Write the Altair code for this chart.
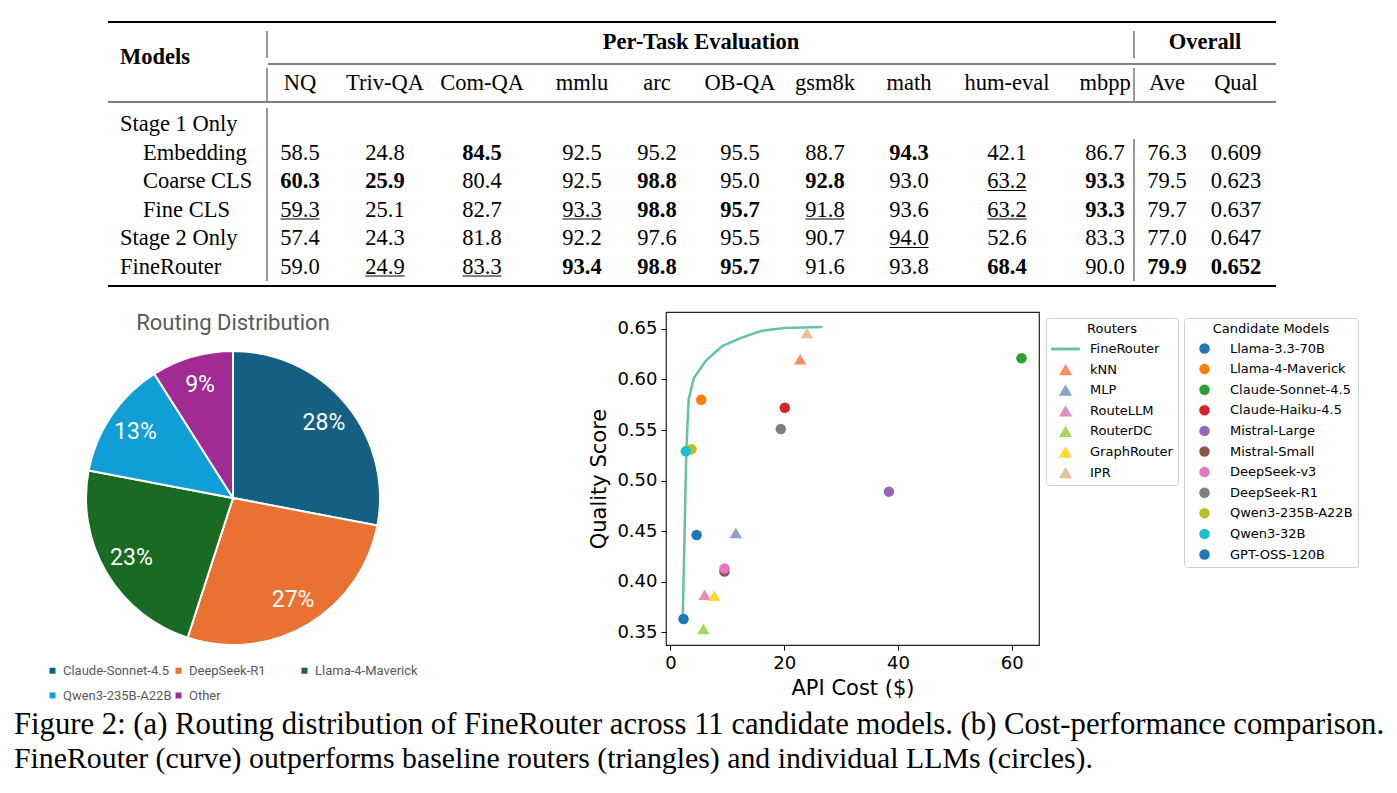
import altair as alt
import pandas as pd

# ------------------------------------------------------------------ data
TASKS = ["NQ", "Triv-QA", "Com-QA", "mmlu", "arc", "OB-QA", "gsm8k", "math",
         "hum-eval", "mbpp", "Ave", "Qual"]
ROW_LABELS = ["Stage 1 Only", "Embedding", "Coarse CLS", "Fine CLS", "Stage 2 Only", "FineRouter"]
ROW_INDENT = [False, True, True, True, False, False]
VALUE_ROWS = ["Embedding", "Coarse CLS", "Fine CLS", "Stage 2 Only", "FineRouter"]
EMBEDDING = [58.5, 24.8, 84.5, 92.5, 95.2, 95.5, 88.7, 94.3, 42.1, 86.7, 76.3, 0.609]
COARSE = [60.3, 25.9, 80.4, 92.5, 98.8, 95.0, 92.8, 93.0, 63.2, 93.3, 79.5, 0.623]
FINE = [59.3, 25.1, 82.7, 93.3, 98.8, 95.7, 91.8, 93.6, 63.2, 93.3, 79.7, 0.637]
STAGE2 = [57.4, 24.3, 81.8, 92.2, 97.6, 95.5, 90.7, 94.0, 52.6, 83.3, 77.0, 0.647]
FINEROUTER = [59.0, 24.9, 83.3, 93.4, 98.8, 95.7, 91.6, 93.8, 68.4, 90.0, 79.9, 0.652]
BOLD = {"Embedding": ["Com-QA", "math"],
        "Coarse CLS": ["NQ", "Triv-QA", "arc", "gsm8k", "mbpp"],
        "Fine CLS": ["arc", "OB-QA", "mbpp"],
        "Stage 2 Only": [],
        "FineRouter": ["mmlu", "arc", "OB-QA", "hum-eval", "Ave", "Qual"]}
UNDER = {"Embedding": [],
         "Coarse CLS": ["hum-eval"],
         "Fine CLS": ["NQ", "mmlu", "gsm8k", "hum-eval"],
         "Stage 2 Only": ["math"],
         "FineRouter": ["Triv-QA", "Com-QA"]}

PIE_MODELS = ["Claude-Sonnet-4.5", "DeepSeek-R1", "Llama-4-Maverick", "Qwen3-235B-A22B", "Other"]
PIE_SHARE = [28, 27, 23, 13, 9]

ROUTERS = ["FineRouter", "kNN", "MLP", "RouteLLM", "RouterDC", "GraphRouter", "IPR"]
BASE_ROUTERS = ["kNN", "MLP", "RouteLLM", "RouterDC", "GraphRouter", "IPR"]
ROUTER_COST = [22.8, 11.5, 6.0, 5.8, 7.7, 24.0]
ROUTER_QUAL = [0.620, 0.448, 0.387, 0.353, 0.386, 0.646]

MODELS = ["Llama-3.3-70B", "Llama-4-Maverick", "Claude-Sonnet-4.5", "Claude-Haiku-4.5",
          "Mistral-Large", "Mistral-Small", "DeepSeek-v3", "DeepSeek-R1",
          "Qwen3-235B-A22B", "Qwen3-32B", "GPT-OSS-120B"]
MODEL_COST = [2.3, 5.4, 61.7, 20.1, 38.4, 9.5, 9.5, 19.4, 3.7, 2.7, 4.6]
MODEL_QUAL = [0.363, 0.580, 0.621, 0.572, 0.489, 0.410, 0.413, 0.551, 0.531, 0.529, 0.446]

FR_COST = [2.16, 2.45, 2.8, 3.2, 4.1, 6.3, 9.1, 12.3, 15.9, 19.9, 26.7]
FR_QUAL = [0.362, 0.439, 0.531, 0.580, 0.6015, 0.619, 0.633, 0.641, 0.648, 0.651, 0.652]

CAPTION_1 = "Figure 2: (a) Routing distribution of FineRouter across 11 candidate models. (b) Cost-performance comparison."
CAPTION_2 = "FineRouter (curve) outperforms baseline routers (triangles) and individual LLMs (circles)."

# ------------------------------------------------------------------ styles / layout
PIE_COLORS = ["#156082", "#E97132", "#196B24", "#0F9ED5", "#A02B93"]
ROUTER_COLORS = ["#66c2a5", "#fc8d62", "#8da0cb", "#e78ac3", "#a6d854", "#ffd92f", "#e5c494"]
LINE_PATH = "M-2.2,-0.22H2.2V0.22H-2.2Z"
ROUTER_SHAPES = [LINE_PATH] + ["triangle-up"] * 6
MODEL_COLORS = ["#1f77b4", "#ff7f0e", "#2ca02c", "#d62728", "#9467bd", "#8c564b",
                "#e377c2", "#7f7f7f", "#bcbd22", "#17becf", "#1f77b4"]

FX, FY, FW, FH = 666, 312, 373, 333     # scatter plot frame on the page
PAGE_W, PAGE_H = 1397, 793


def px(x):
    return x - FX


def py(y):
    return y - FY


SERIF = "Liberation Serif"
SANS = "DejaVu Sans"
PIEF = "Roboto"
TFS = 22.5
COL_CENTERS = [300, 385, 482, 582, 657, 740, 825, 909, 1007, 1105, 1167, 1236]
ROW_CENTERS = [124, 152.5, 181, 209.5, 238, 266.5]
H_RULES = [(108, 1276, 22, 1.8), (268, 1276, 64, 1.0), (108, 1276, 102, 1.1), (108, 1276, 286, 1.8)]
V_RULES = [(267, 31, 58), (267, 68, 101), (267, 108, 281),
           (1134, 31, 58), (1134, 68, 101), (1134, 139, 281)]

# ------------------------------------------------------------------ table
recs = []
for name, vals in zip(VALUE_ROWS, [EMBEDDING, COARSE, FINE, STAGE2, FINEROUTER]):
    ri = ROW_LABELS.index(name)
    for c, (task, v) in enumerate(zip(TASKS, vals)):
        recs.append(dict(row=ri, col=c,
                         text=(f"{v:.3f}" if task == "Qual" else f"{v:.1f}"),
                         bold=task in BOLD[name], under=task in UNDER[name]))
cells = pd.DataFrame(recs)
heads = pd.DataFrame({"col": list(range(len(TASKS))), "task": TASKS})
rowlab = pd.DataFrame({"row": list(range(len(ROW_LABELS))), "label": ROW_LABELS, "indent": ROW_INDENT})

xs = alt.Scale(domain=list(range(len(TASKS))), range=[px(c) for c in COL_CENTERS], nice=False, zero=False)
ys = alt.Scale(domain=list(range(len(ROW_LABELS))), range=[py(r) for r in ROW_CENTERS], nice=False, zero=False)
X_T = alt.X("col:Q", scale=xs, axis=None)
Y_T = alt.Y("row:Q", scale=ys, axis=None)

txt = dict(font=SERIF, fontSize=TFS, baseline="middle", color="black")
cell_normal = alt.Chart(cells).transform_filter("!datum.bold").mark_text(align="center", **txt).encode(
    x=X_T, y=Y_T, text="text:N")
cell_bold = alt.Chart(cells).transform_filter("datum.bold").mark_text(align="center", fontWeight="bold", **txt).encode(
    x=X_T, y=Y_T, text="text:N")
cell_under = alt.Chart(cells).transform_filter("datum.under").mark_rule(
    xOffset=-19.5, x2Offset=19.5, yOffset=9.5, y2Offset=9.5, strokeWidth=1, color="black").encode(
    x=X_T, x2="col:Q", y=Y_T)
head2 = alt.Chart(heads).mark_text(align="center", **txt).encode(x=X_T, y=alt.value(py(83)), text="task:N")
lab_main = alt.Chart(rowlab).transform_filter("!datum.indent").mark_text(align="left", **txt).encode(
    x=alt.value(px(120)), y=Y_T, text="label:N")
lab_sub = alt.Chart(rowlab).transform_filter("datum.indent").mark_text(align="left", **txt).encode(
    x=alt.value(px(143)), y=Y_T, text="label:N")
table = alt.layer(cell_normal, cell_bold, cell_under, head2, lab_main, lab_sub)


def text_at(text, x, y, **kw):
    return alt.Chart(pd.DataFrame({"t": [text]})).mark_text(**kw).encode(
        x=alt.value(px(x)), y=alt.value(py(y)), text="t:N")


head1 = alt.layer(
    text_at("Models", 120, 57, align="left", fontWeight="bold", **txt),
    text_at("Per-Task Evaluation", 701, 42, align="center", fontWeight="bold", **txt),
    text_at("Overall", 1205, 42, align="center", fontWeight="bold", **txt),
)

hr = pd.DataFrame([dict(x=px(a), x2=px(b), y=py(y), w=w) for a, b, y, w in H_RULES])
vr = pd.DataFrame([dict(x=px(x), y=py(a), y2=py(b)) for x, a, b in V_RULES])
hrules = alt.Chart(hr).mark_rule(color="black").encode(
    x=alt.X("x:Q", scale=None, axis=None), x2="x2:Q",
    y=alt.Y("y:Q", scale=None, axis=None),
    strokeWidth=alt.StrokeWidth("w:Q", scale=None, legend=None))
vrules = alt.Chart(vr).mark_rule(color="#333333", strokeWidth=1).encode(
    x=alt.X("x:Q", scale=None, axis=None),
    y=alt.Y("y:Q", scale=None, axis=None), y2="y2:Q")

# ------------------------------------------------------------------ pie
pie_df = pd.DataFrame({"model": PIE_MODELS, "share": PIE_SHARE, "order": list(range(len(PIE_MODELS))),
                       "label": [f"{s}%" for s in PIE_SHARE]})
pie_legend = alt.Legend(title=None, orient="none", direction="horizontal",
                        legendX=px(46), legendY=py(664), columns=3,
                        gridAlign="all", symbolType="square", symbolSize=36, symbolStrokeWidth=0,
                        labelFont=PIEF, labelFontSize=13, labelColor="#595959", labelOffset=4,
                        columnPadding=0, rowPadding=11, padding=0, labelLimit=200)
pie_base = alt.Chart(pie_df).encode(
    theta=alt.Theta("share:Q", stack=True),
    order=alt.Order("order:Q"),
    x=alt.value(px(233)), y=alt.value(py(498)))
arcs = pie_base.mark_arc(outerRadius=147, stroke="white", strokeWidth=2).encode(
    color=alt.Color("model:N", scale=alt.Scale(domain=PIE_MODELS, range=PIE_COLORS), legend=pie_legend))
arc_labels = pie_base.mark_text(radius=118, font=PIEF, fontSize=23, color="white",
                                align="center", baseline="middle").encode(text="label:N")
pie_title = text_at("Routing Distribution", 233, 323, align="center", baseline="middle",
                    font=PIEF, fontSize=22, color="#595959")
pie = alt.layer(arcs, arc_labels, pie_title)

# ------------------------------------------------------------------ scatter
x_sc = alt.Scale(domain=[-0.78, 64.78], nice=False, zero=False)
y_sc = alt.Scale(domain=[0.3372, 0.6668], nice=False, zero=False)
axis_common = dict(grid=False, domain=False, ticks=True, tickSize=5, tickColor="black", tickWidth=1,
                   labelFont=SANS, labelFontSize=18, labelColor="black",
                   titleFont=SANS, titleFontSize=21, titleFontWeight="normal", titleColor="black")
ax_x = alt.Axis(values=[0, 20, 40, 60], title="API Cost ($)", labelPadding=4, titlePadding=5, **axis_common)
ax_y = alt.Axis(values=[0.35, 0.40, 0.45, 0.50, 0.55, 0.60, 0.65], format=".2f", title="Quality Score",
                labelPadding=4, titlePadding=7, **axis_common)

leg_common = dict(orient="none", legendY=6, titleFont=SANS, titleFontSize=13, titleFontWeight="normal",
                  titleColor="black", titleAnchor="middle", labelFont=SANS, labelFontSize=13,
                  labelColor="black", padding=5, strokeColor="#d0d0d0", fillColor="white",
                  cornerRadius=3, symbolStrokeWidth=0, rowPadding=6.6, titlePadding=6)
leg_r = alt.Legend(title="Routers", legendX=380, symbolSize=170, symbolOffset=7.5, labelOffset=17.5,
                   **leg_common)
leg_m = alt.Legend(title="Candidate Models", legendX=518, symbolSize=110, symbolType="circle",
                   symbolOffset=9, labelOffset=19, **leg_common)

fr_df = pd.DataFrame({"cost": FR_COST, "qual": FR_QUAL})
rt_df = pd.DataFrame({"router": BASE_ROUTERS, "cost": ROUTER_COST, "qual": ROUTER_QUAL})
md_df = pd.DataFrame({"model": MODELS, "cost": MODEL_COST, "qual": MODEL_QUAL})

X_S = alt.X("cost:Q", scale=x_sc, axis=ax_x)
Y_S = alt.Y("qual:Q", scale=y_sc, axis=ax_y)
fr_line = alt.Chart(fr_df).mark_line(color=ROUTER_COLORS[0], strokeWidth=2.5).encode(x=X_S, y=Y_S)
tri = alt.Chart(rt_df).mark_point(filled=True, size=150, opacity=1).encode(
    x=X_S, y=Y_S,
    color=alt.Color("router:N", scale=alt.Scale(domain=ROUTERS, range=ROUTER_COLORS), legend=leg_r),
    shape=alt.Shape("router:N", scale=alt.Scale(domain=ROUTERS, range=ROUTER_SHAPES), legend=leg_r))
circ = alt.Chart(md_df).mark_circle(size=110, opacity=1).encode(
    x=X_S, y=Y_S,
    color=alt.Color("model:N", scale=alt.Scale(domain=MODELS, range=MODEL_COLORS), legend=leg_m))
scatter = alt.layer(fr_line, tri, circ).resolve_scale(color="independent", shape="independent")

# ------------------------------------------------------------------ caption
# line 1 is justified to the full text width in the original; its size fills that width
cap = alt.layer(
    text_at(CAPTION_1, 14, 734, align="left", baseline="alphabetic", font=SERIF, fontSize=30.7, color="black"),
    text_at(CAPTION_2, 14, 768, align="left", baseline="alphabetic", font=SERIF, fontSize=29.8, color="black"),
)

chart = alt.layer(scatter, table, head1, hrules, vrules, pie, cap).resolve_scale(
    x="independent", y="independent", color="independent", shape="independent",
    theta="independent", strokeWidth="independent"
).properties(
    width=FW, height=FH,
    autosize=alt.AutoSizeParams(type="none"),
    padding={"left": FX, "top": FY, "right": PAGE_W - FX - FW, "bottom": PAGE_H - FY - FH},
    background="white",
).configure_view(stroke="#222222", strokeWidth=1.2)

chart.save("out.html", embed_options={"renderer": "svg", "actions": False})
